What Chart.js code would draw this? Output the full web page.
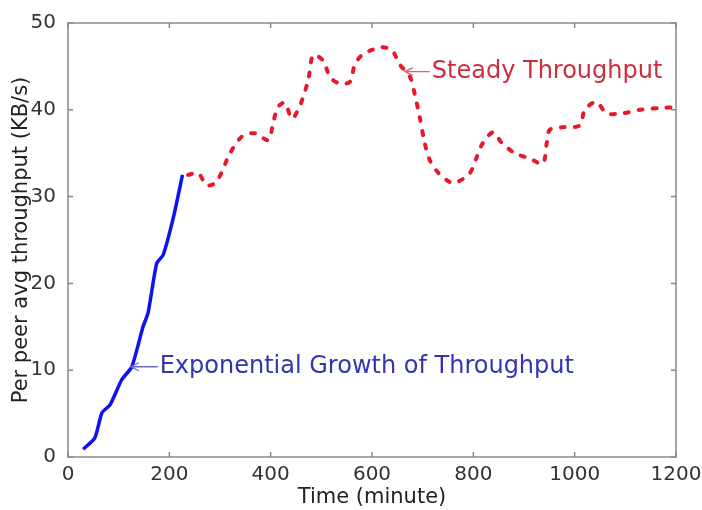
<!DOCTYPE html>
<html>
<head>
<meta charset="utf-8">
<script src="https://cdn.jsdelivr.net/npm/chart.js@4"></script>
<style>
  html, body { margin: 0; padding: 0; background: #fff; }
  #wrap { width: 702px; height: 510px; }
</style>
</head>
<body>
<div id="wrap"><canvas id="chart" width="702" height="510"></canvas></div>
<script>
// growth phase (solid blue)
const growthX = [30, 53, 67, 83, 106, 126, 148, 158, 175, 188, 208, 226];
const growthY = [0.9, 2.2, 5.1, 6.0, 8.9, 10.4, 15.0, 16.6, 22.3, 23.3, 27.6, 32.5];

// steady phase (dashed red)
const steadyX = [237, 257, 274, 293, 320, 343, 369, 395, 405, 414, 428, 442, 458, 474, 484, 503, 517, 533, 556, 566,
  580, 600, 620, 639, 655, 675, 684, 694, 704, 714, 730, 753, 769, 793, 807, 819, 839, 856, 882, 911,
  937, 945, 951, 977, 1010, 1020, 1043, 1063, 1095, 1129, 1168, 1198];
const steadyY = [32.5, 32.7, 31.3, 31.7, 35.0, 36.9, 37.3, 36.5, 38.5, 40.3, 40.8, 39.0, 40.5, 43.4, 46.3, 45.7, 43.8, 43.1, 43.2, 45.2,
  46.3, 46.9, 47.2, 46.9, 45.2, 43.8, 41.9, 39.2, 36.2, 34.2, 32.8, 31.7, 31.7, 32.7, 34.6, 36.2, 37.4, 36.2, 35.0, 34.4,
  33.8, 36.2, 37.7, 38.0, 38.2, 40.0, 40.9, 39.6, 39.6, 40.0, 40.2, 40.3];

const xTicks = [0, 200, 400, 600, 800, 1000, 1200];
const yTicks = [0, 10, 20, 30, 40, 50];

// annotations: text, arrow tip (data), text start (data)
const notes = [
  { text: "Exponential Growth of Throughput", tip: [124, 10.4], start: [181, 10.4], color: "#3434b0", arrow: "#6a6ad0" },
  { text: "Steady Throughput", tip: [665, 44.4], start: [718, 44.4], color: "#cc2e3c", arrow: "#e06070" },
];

const toPts = (xs, ys) => xs.map((x, i) => ({ x: x, y: ys[i] }));

const framePlugin = {
  id: "frame",
  afterDatasetsDraw(chart) {
    const { ctx, chartArea: a, scales } = chart;
    ctx.save();
    ctx.strokeStyle = "#8a8a8a";
    ctx.lineWidth = 1.5;
    ctx.strokeRect(a.left, a.top, a.right - a.left, a.bottom - a.top);
    ctx.beginPath();
    xTicks.forEach((t) => {
      const px = scales.x.getPixelForValue(t);
      ctx.moveTo(px, a.bottom); ctx.lineTo(px, a.bottom - 5);
      ctx.moveTo(px, a.top); ctx.lineTo(px, a.top + 5);
    });
    yTicks.forEach((t) => {
      const py = scales.y.getPixelForValue(t);
      ctx.moveTo(a.left, py); ctx.lineTo(a.left + 5, py);
      ctx.moveTo(a.right, py); ctx.lineTo(a.right - 5, py);
    });
    ctx.stroke();

    notes.forEach((n) => {
      const tx = scales.x.getPixelForValue(n.tip[0]);
      const ty = scales.y.getPixelForValue(n.tip[1]);
      const sx = scales.x.getPixelForValue(n.start[0]);
      ctx.strokeStyle = n.arrow;
      ctx.lineWidth = 1.3;
      ctx.beginPath();
      ctx.moveTo(sx - 2, ty); ctx.lineTo(tx, ty);
      ctx.moveTo(tx + 8, ty - 4); ctx.lineTo(tx, ty); ctx.lineTo(tx + 8, ty + 4);
      ctx.stroke();
      ctx.fillStyle = n.color;
      ctx.font = "24px 'DejaVu Sans'";
      ctx.textBaseline = "middle";
      ctx.textAlign = "left";
      ctx.fillText(n.text, sx, ty);
    });
    ctx.restore();
  },
};

new Chart(document.getElementById("chart"), {
  type: "scatter",
  data: {
    datasets: [
      {
        data: toPts(growthX, growthY),
        showLine: true,
        borderColor: "#1010f0",
        borderWidth: 3.5,
        pointRadius: 0,
        tension: 0.2,
      },
      {
        data: toPts(steadyX, steadyY),
        showLine: true,
        borderColor: "#e8182c",
        borderWidth: 4,
        borderDash: [4, 10],
        borderCapStyle: "round",
        pointRadius: 0,
        tension: 0.3,
      },
    ],
  },
  options: {
    responsive: false,
    animation: false,
    layout: { padding: { top: 23, right: 26, left: 0, bottom: 0 } },
    plugins: { legend: { display: false }, tooltip: { enabled: false } },
    scales: {
      x: {
        type: "linear",
        min: 0,
        max: 1200,
        afterBuildTicks: (s) => { s.ticks = xTicks.map((v) => ({ value: v })); },
        afterFit: (s) => { s.height = 53; },
        grid: { display: false },
        border: { display: false },
        ticks: { color: "#333", padding: 0, font: { family: "DejaVu Sans", size: 20, lineHeight: 1.0 }, maxRotation: 0, callback: (v) => String(v) },
        title: { display: true, text: "Time (minute)", color: "#222", padding: 0, font: { family: "DejaVu Sans", size: 21 } },
      },
      y: {
        min: 0,
        max: 50,
        afterBuildTicks: (s) => { s.ticks = yTicks.map((v) => ({ value: v })); },
        afterFit: (s) => { s.width = 68; },
        grid: { display: false },
        border: { display: false },
        ticks: { color: "#333", padding: 4, font: { family: "DejaVu Sans", size: 20 }, callback: (v) => String(v) },
        title: { display: true, text: "Per peer avg throughput (KB/s)", color: "#222", padding: { top: 9, bottom: 0 }, font: { family: "DejaVu Sans", size: 21 } },
      },
    },
  },
  plugins: [framePlugin],
});
</script>
</body>
</html>
